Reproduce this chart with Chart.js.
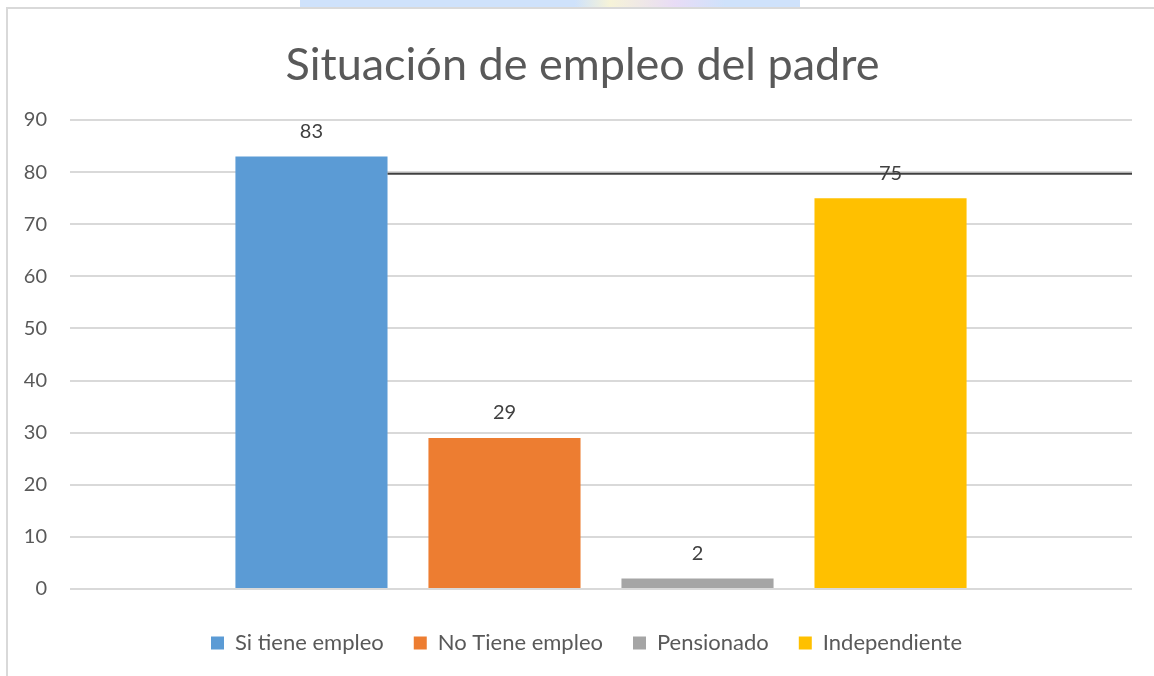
<!DOCTYPE html>
<html>
<head>
<meta charset="utf-8">
<script src="https://cdn.jsdelivr.net/npm/chart.js@4.4.1/dist/chart.umd.min.js"></script>
<style>
  html,body{margin:0;padding:0;background:#fff;width:1154px;height:676px;overflow:hidden;}
  #wm{position:absolute;left:300px;top:0;width:500px;height:7px;
      background:linear-gradient(90deg,#cfe2fb 0%,#cfe2fb 55%,#f6f3d8 62%,#e8dcf6 75%,#cfe2fb 85%,#cfe2fb 100%);}
  #frame{position:absolute;left:6px;top:7px;width:1160px;height:680px;
         border-left:2px solid #d9d9d9;border-top:2px solid #d9d9d9;box-sizing:border-box;}
  #wrap{position:absolute;left:0;top:0;width:1154px;height:676px;}
</style>
</head>
<body>
<div id="wm"></div>
<div id="frame"></div>
<div id="wrap"><canvas id="c" width="1154" height="676"></canvas></div>
<script>
const TITLE = "Situación de empleo del padre";
const CATEGORIES = [""];
const SERIES_NAMES = ["Si tiene empleo", "No Tiene empleo", "Pensionado", "Independiente"];
const SERIES_VALUES = [[83], [29], [2], [75]];
const SERIES_COLORS = ["#5B9BD5", "#ED7D31", "#A5A5A5", "#FFC000"];
const Y_MIN = 0, Y_MAX = 90, Y_STEP = 10;
const REF_LINE_VALUE = 79.7;

const FONT = "Lato, 'Open Sans', sans-serif";

const labelsPlugin = {
  id: 'valueLabels',
  afterDatasetsDraw(chart) {
    const ctx = chart.ctx;
    ctx.save();
    ctx.font = "20px " + FONT;
    ctx.fillStyle = "#404040";
    ctx.textAlign = "center";
    ctx.textBaseline = "middle";
    chart.data.datasets.forEach((ds, i) => {
      const meta = chart.getDatasetMeta(i);
      meta.data.forEach((bar, j) => {
        ctx.fillText(String(ds.data[j]), bar.x, bar.y - 25);
      });
    });
    ctx.restore();
  }
};

const refLinePlugin = {
  id: 'refLine',
  afterDraw(chart) {
    const ctx = chart.ctx;
    const bar = chart.getDatasetMeta(0).data[0];
    const y = chart.scales.y.getPixelForValue(REF_LINE_VALUE);
    ctx.save();
    ctx.strokeStyle = "#404040";
    ctx.lineWidth = 2;
    ctx.beginPath();
    ctx.moveTo(bar.x + bar.width / 2, y);
    ctx.lineTo(chart.chartArea.right, y);
    ctx.stroke();
    ctx.restore();
  }
};

const legendFitPlugin = {
  id: 'legendFit',
  beforeInit(chart) {
    const lg = chart.legend;
    if (lg && !lg._patched) {
      const orig = lg.fit;
      lg.fit = function () { orig.call(this); this.height = 74; };
      lg._patched = true;
    }
  },
  afterLayout(chart) {
    if (chart.legend) { chart.legend.left += 15; chart.legend.right += 15; }
    if (chart.titleBlock) { chart.titleBlock.left += 11; chart.titleBlock.right += 11; }
  }
};

new Chart(document.getElementById('c'), {
  type: 'bar',
  data: {
    labels: CATEGORIES,
    datasets: SERIES_NAMES.map((n, i) => ({
      label: n,
      data: SERIES_VALUES[i],
      backgroundColor: SERIES_COLORS[i],
      borderWidth: 0,
      barPercentage: 0.788,
      categoryPercentage: 0.727
    }))
  },
  options: {
    responsive: false,
    animation: false,
    devicePixelRatio: 1,
    layout: { padding: { left: 11, right: 22, top: 0, bottom: 0 } },
    plugins: {
      title: {
        display: true,
        text: TITLE,
        color: "#595959",
        font: { family: FONT, size: 45, weight: 'normal' },
        padding: { top: 38, bottom: 28 }
      },
      legend: {
        display: true,
        position: 'bottom',
        labels: {
          color: "#595959",
          font: { family: FONT, size: 22 },
          boxWidth: 13, boxHeight: 13,
          padding: 30
        }
      },
      tooltip: { enabled: false }
    },
    scales: {
      x: {
        display: true,
        grid: { display: false },
        border: { display: false },
        ticks: { display: false },
        afterFit(scale) { scale.height = 13; }
      },
      y: {
        min: Y_MIN, max: Y_MAX,
        ticks: {
          stepSize: Y_STEP,
          color: "#595959",
          font: { family: FONT, size: 20 },
          padding: 23
        },
        grid: { color: "#d9d9d9", lineWidth: 2, drawTicks: false },
        border: { display: false },
        afterFit(scale) { scale.width = 59; }
      }
    }
  },
  plugins: [legendFitPlugin, labelsPlugin, refLinePlugin]
});
</script>
</body>
</html>
